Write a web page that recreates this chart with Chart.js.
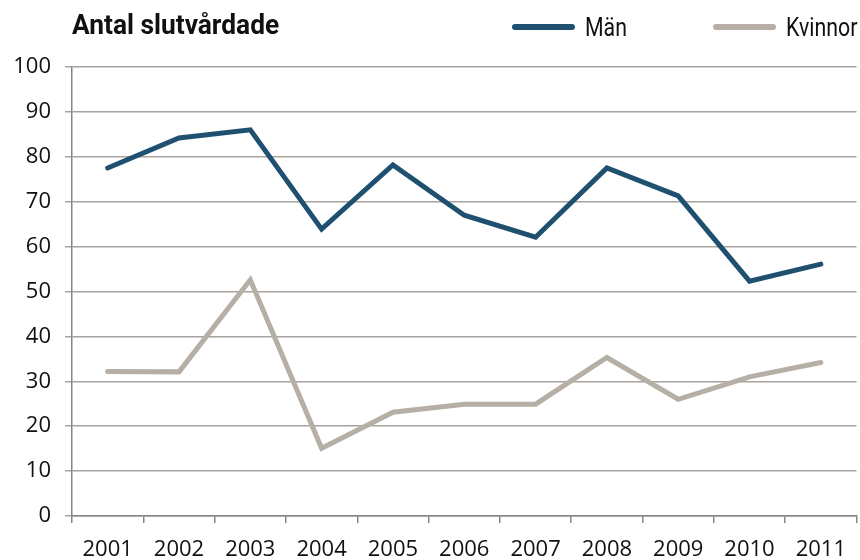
<!DOCTYPE html>
<html lang="sv">
<head>
<meta charset="utf-8">
<title>Antal slutvårdade</title>
<script src="https://cdn.jsdelivr.net/npm/chart.js@4"></script>
<style>
  html, body { margin: 0; padding: 0; background: #fff; }
  #wrap { position: relative; width: 860px; height: 560px; }
  .txt {
    position: absolute; white-space: nowrap; line-height: 1;
    font-family: "Roboto", sans-serif; color: #111;
    transform-origin: left top;
  }
  #title { left: 72px; top: 11px; font-size: 28px; font-weight: bold; transform: scaleX(0.94); }
  .key { position: absolute; height: 6px; width: 63px; border-radius: 3px; top: 24px; }
  .lbl { top: 14px; font-size: 26px; transform: scaleX(0.82); }
</style>
</head>
<body>
<div id="wrap">
  <canvas id="chart" width="860" height="560"></canvas>
  <div id="title" class="txt">Antal slutvårdade</div>
  <div id="legend"></div>
</div>
<script>
const years = ["2001", "2002", "2003", "2004", "2005", "2006", "2007", "2008", "2009", "2010", "2011"];
const man = [77.5, 84.2, 86, 63.9, 78.2, 67, 62.1, 77.5, 71.3, 52.3, 56.1];
const kvinnor = [32.2, 32.1, 52.6, 15.1, 23.1, 24.9, 24.9, 35.3, 26, 31, 34.2];

const gridColor = "#a8a29c";
const axisColor = "#8a8580";
const tickFont = { family: "'Open Sans', 'Noto Sans', sans-serif", size: 22 };

const chart = new Chart(document.getElementById("chart"), {
  type: "line",
  data: {
    labels: years,
    datasets: [
      {
        label: "Män",
        data: man,
        borderColor: "#1f5070",
        borderWidth: 5,
        borderCapStyle: "round",
        pointRadius: 0,
        tension: 0,
      },
      {
        label: "Kvinnor",
        data: kvinnor,
        borderColor: "#b5afa6",
        borderWidth: 5,
        borderCapStyle: "round",
        pointRadius: 0,
        tension: 0,
      },
    ],
  },
  options: {
    responsive: false,
    animation: false,
    layout: { padding: { top: 67, right: 0, bottom: 0, left: 0 } },
    plugins: {
      legend: { display: false },
      tooltip: { enabled: false },
    },
    scales: {
      x: {
        offset: true,
        grid: {
          offset: true,
          drawOnChartArea: false,
          tickLength: 7,
          color: axisColor,
          lineWidth: 1.5,
        },
        border: { color: axisColor, width: 1.5 },
        ticks: { color: "#111", font: tickFont, padding: 14, maxRotation: 0 },
        afterFit(scale) { scale.height = 44; },
      },
      y: {
        min: 0,
        max: 100,
        ticks: { stepSize: 10, color: "#111", font: tickFont, padding: 14 },
        grid: { color: gridColor, lineWidth: 1.5, tickLength: 7 },
        border: { color: axisColor, width: 1.5 },
        afterFit(scale) { scale.width = 72; },
      },
    },
  },
});

// legend uppe till höger, byggd från dataseten
const legendPos = [512, 713];
const legendEl = document.getElementById("legend");
chart.data.datasets.forEach((ds, i) => {
  const key = document.createElement("div");
  key.className = "key";
  key.style.left = legendPos[i] + "px";
  key.style.background = ds.borderColor;
  legendEl.appendChild(key);
  const lbl = document.createElement("div");
  lbl.className = "txt lbl";
  lbl.style.left = legendPos[i] + 73 + "px";
  lbl.textContent = ds.label;
  legendEl.appendChild(lbl);
});
</script>
</body>
</html>
